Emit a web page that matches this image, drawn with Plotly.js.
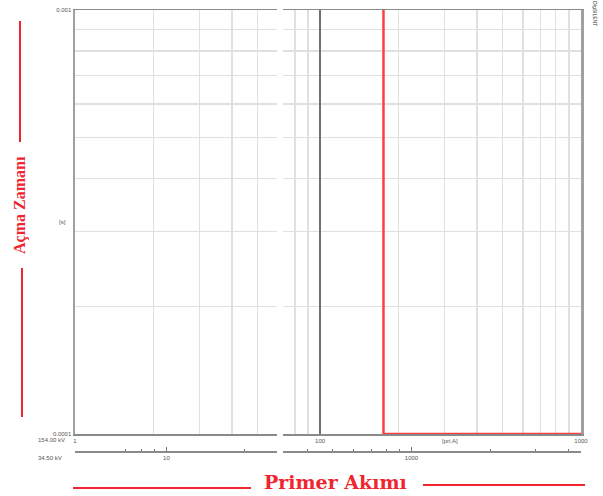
<!DOCTYPE html>
<html>
<head>
<meta charset="utf-8">
<script src="https://cdn.plot.ly/plotly-3.0.1.min.js"></script>
<style>
  html, body { margin: 0; padding: 0; background: #fff; }
  #chart { width: 603px; height: 496px; }
</style>
</head>
<body>
<div id="chart"></div>
<script>
// Time-current characteristic, primary current on a broken log axis
const relayCurrent = [175, 175, 1000];          // [pri.A]
const relayTime = [0.001, 0.0001, 0.0001];       // [s]

const voltagePrimary = 154.0;                    // kV
const voltageSecondary = 34.5;                   // kV

const leftRangeLog = [0, 0.774];                 // 1 .. ~5.9 A
const rightRangeLog = [1.858, 3];                // ~72 .. 1000 A

const leftMajor = [1], leftMajorText = ['1'];
const leftMinor = [2, 3, 4, 5];
const rightMajor = [100, 1000], rightMajorText = ['100', '1000'];
const rightMinor = [80, 90, 200, 300, 400, 500, 600, 700, 800, 900];

const timeMajor = [0.0001, 0.001], timeMajorText = ['0.0001', '0.001'];
const timeMinor = [0.0002, 0.0003, 0.0004, 0.0005, 0.0006, 0.0007, 0.0008, 0.0009];

const secLeftMajor = [10], secLeftMajorText = ['10'];
const secLeftMinor = [7, 8, 9, 20];
const secRightMajor = [1000], secRightMajorText = ['1000'];
const secRightMinor = [400, 500, 600, 700, 800, 900, 2000, 3000, 4000];

// page geometry helpers (pixel -> paper)
const M = { l: 75, r: 22, t: 10, b: 45 };
const W = 603 - M.l - M.r, H = 496 - M.t - M.b;
const px = X => (X - M.l) / W;
const py = Y => (496 - M.b - Y) / H;

const shift = Math.log10(voltagePrimary / voltageSecondary);
const tickFont = { family: 'Liberation Sans, Arial, sans-serif', size: 6, color: '#555' };
const titleFont = { family: 'Liberation Serif, Times New Roman, serif', size: 16, color: '#f0252f', weight: 'bold' };
const redLine = '#f0252f';

const yDomain = [py(434), 1];
const gridLight = '#e0e0e0';

const baseX = {
  type: 'log', showline: true, mirror: true, linecolor: '#8a8a8a', linewidth: 1.5,
  ticks: '', tickfont: tickFont, gridcolor: '#707070', gridwidth: 1.5,
  zeroline: false, layer: 'below traces', fixedrange: true
};
const baseY = {
  type: 'log', range: [-4, -3], domain: yDomain, linecolor: '#a0a0a0', linewidth: 2.5,
  showline: true, ticks: '', tickfont: tickFont, showgrid: false, zeroline: false,
  layer: 'below traces',
  minor: { tickvals: timeMinor, showgrid: true, gridcolor: gridLight, gridwidth: 1.5, ticks: '' }
};
const secX = {
  type: 'log', anchor: 'free', position: 0, showline: true, linecolor: '#8a8a8a', linewidth: 1.5,
  showgrid: false, zeroline: false, ticks: 'inside', ticklen: 4, tickwidth: 1, tickcolor: '#777',
  tickfont: tickFont, fixedrange: true
};

const data = [
  { x: [], y: [], xaxis: 'x', yaxis: 'y', type: 'scatter', showlegend: false, hoverinfo: 'skip' },
  { x: relayCurrent, y: relayTime, xaxis: 'x2', yaxis: 'y2', type: 'scatter', mode: 'lines',
    line: { color: '#ff4040', width: 2.5 }, showlegend: false },
  { x: [], y: [], xaxis: 'x3', yaxis: 'y', type: 'scatter', showlegend: false, hoverinfo: 'skip' },
  { x: [], y: [], xaxis: 'x4', yaxis: 'y2', type: 'scatter', showlegend: false, hoverinfo: 'skip' }
];

const layout = {
  width: 603, height: 496,
  margin: M,
  paper_bgcolor: '#fff', plot_bgcolor: '#fff',
  showlegend: false,
  xaxis: Object.assign({}, baseX, {
    domain: [0, px(277)], range: leftRangeLog, anchor: 'y',
    tickvals: leftMajor, ticktext: leftMajorText,
    minor: { tickvals: leftMinor, showgrid: true, gridcolor: gridLight, gridwidth: 1.5, ticks: '' }
  }),
  xaxis2: Object.assign({}, baseX, {
    domain: [px(283), 1], range: rightRangeLog, anchor: 'y2',
    tickvals: rightMajor, ticktext: rightMajorText,
    minor: { tickvals: rightMinor, showgrid: true, gridcolor: gridLight, gridwidth: 1.5, ticks: '' }
  }),
  xaxis3: Object.assign({}, secX, {
    overlaying: 'x', range: [leftRangeLog[0] + shift, leftRangeLog[1] + shift],
    tickvals: secLeftMajor, ticktext: secLeftMajorText,
    minor: { tickvals: secLeftMinor, ticks: 'inside', ticklen: 2, tickcolor: '#777', showgrid: false }
  }),
  xaxis4: Object.assign({}, secX, {
    overlaying: 'x2', range: [rightRangeLog[0] + shift, rightRangeLog[1] + shift],
    tickvals: secRightMajor, ticktext: secRightMajorText,
    minor: { tickvals: secRightMinor, ticks: 'inside', ticklen: 2, tickcolor: '#777', showgrid: false }
  }),
  yaxis: Object.assign({}, baseY, {
    anchor: 'x', side: 'left', tickvals: timeMajor, ticktext: timeMajorText
  }),
  yaxis2: Object.assign({}, baseY, {
    anchor: 'x2', side: 'right', matches: 'y', showticklabels: false
  }),
  annotations: [
    { text: '[s]', xref: 'paper', yref: 'paper', x: px(62), y: py(222), showarrow: false,
      xanchor: 'center', yanchor: 'middle', font: tickFont },
    { text: '154.00 kV', xref: 'paper', yref: 'paper', x: px(67), y: py(440), showarrow: false,
      xanchor: 'right', yanchor: 'middle', font: tickFont },
    { text: '34.50 kV', xref: 'paper', yref: 'paper', x: px(64), y: py(458), showarrow: false,
      xanchor: 'right', yanchor: 'middle', font: tickFont },
    { text: '[pri.A]', xref: 'paper', yref: 'paper', x: px(450), y: py(441), showarrow: false,
      xanchor: 'center', yanchor: 'middle', font: tickFont },
    { text: 'DIgSILENT', xref: 'paper', yref: 'paper', x: px(595), y: py(13), showarrow: false,
      textangle: 90, xanchor: 'center', yanchor: 'middle',
      font: { family: 'Liberation Sans, Arial, sans-serif', size: 5, color: '#333' } },
    { text: 'Açma Zamanı', xref: 'paper', yref: 'paper', x: px(20), y: py(205), showarrow: false,
      textangle: -90, xanchor: 'center', yanchor: 'middle', font: titleFont },
    { text: 'Primer Akımı', xref: 'paper', yref: 'paper', x: px(335), y: py(482), showarrow: false,
      xanchor: 'center', yanchor: 'middle',
      font: { family: 'DejaVu Serif, serif', size: 19, color: '#f0252f', weight: 'bold' } }
  ],
  shapes: [
    { type: 'line', xref: 'paper', yref: 'paper', x0: px(20), x1: px(20), y0: py(21), y1: py(142),
      line: { color: redLine, width: 2 } },
    { type: 'line', xref: 'paper', yref: 'paper', x0: px(22), x1: px(22), y0: py(268), y1: py(417),
      line: { color: redLine, width: 2 } },
    { type: 'line', xref: 'paper', yref: 'paper', x0: px(73), x1: px(251), y0: py(488), y1: py(488),
      line: { color: redLine, width: 2 } },
    { type: 'line', xref: 'paper', yref: 'paper', x0: px(423), x1: px(585), y0: py(485), y1: py(485),
      line: { color: redLine, width: 2 } }
  ]
};

Plotly.newPlot('chart', data, layout, { staticPlot: true, displayModeBar: false });
</script>
</body>
</html>
